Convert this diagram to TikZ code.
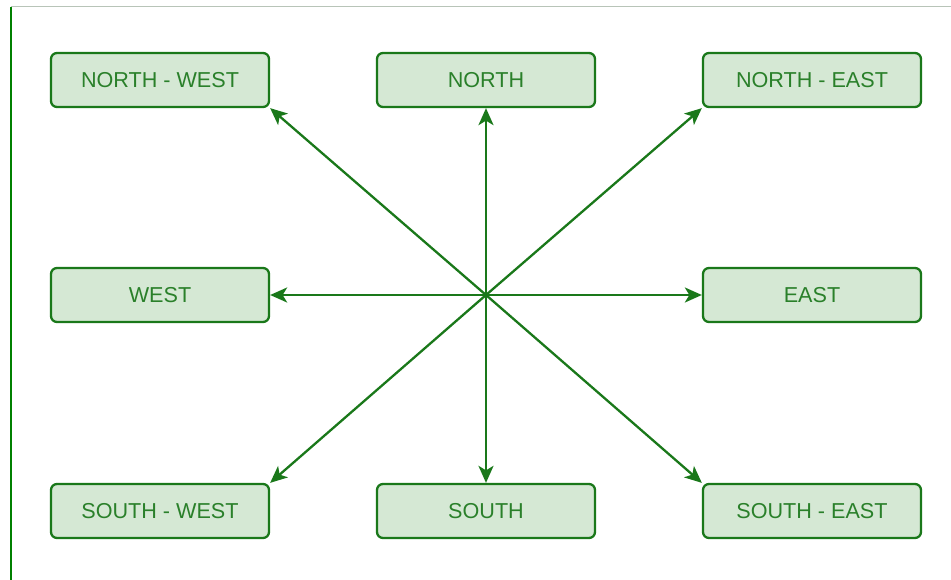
\documentclass[tikz,border=0pt]{standalone}
\usepackage{fontspec}
\setmainfont{Liberation Sans}
\usetikzlibrary{arrows.meta}
\definecolor{boxfill}{HTML}{D5E8D4}
\definecolor{boxline}{HTML}{1A781A}
\definecolor{boxtext}{HTML}{2A802A}
\definecolor{frameline}{HTML}{B8C4B8}
\begin{document}
\begin{tikzpicture}[x=1pt,y=-1pt,
  dirbox/.style={draw=boxline, fill=boxfill, line width=2.3pt, rounded corners=6pt,
    minimum width=218pt, minimum height=54pt, inner sep=0pt,
    text=boxtext, font=\fontsize{21.6}{25}\selectfont},
  ray/.style={draw=boxline, line width=2.3pt,
    -{Stealth[length=17pt,width=15pt,inset=4.5pt]}}]
  \useasboundingbox (0,0) rectangle (951,580);
  % page frame lines
  \draw[frameline, line width=1pt] (11,7) -- (951,7);
  \draw[green!50!black, line width=1.5pt] (11,7) -- (11,580);
  % direction boxes
  \node[dirbox] (nw) at (160,80)  {NORTH - WEST};
  \node[dirbox] (n)  at (486,80)  {NORTH};
  \node[dirbox] (ne) at (812,80)  {NORTH - EAST};
  \node[dirbox] (w)  at (160,295) {WEST};
  \node[dirbox] (e)  at (812,295) {EAST};
  \node[dirbox] (sw) at (160,511) {SOUTH - WEST};
  \node[dirbox] (s)  at (486,511) {SOUTH};
  \node[dirbox] (se) at (812,511) {SOUTH - EAST};
  % common centre of the rays
  \coordinate (c) at (486,295);
  \draw[ray] (c) -- (nw.south east);
  \draw[ray] (c) -- (n.south);
  \draw[ray] (c) -- (ne.south west);
  \draw[ray] (c) -- (w.east);
  \draw[ray] (c) -- (e.west);
  \draw[ray] (c) -- (sw.north east);
  \draw[ray] (c) -- (s.north);
  \draw[ray] (c) -- (se.north west);
\end{tikzpicture}
\end{document}
